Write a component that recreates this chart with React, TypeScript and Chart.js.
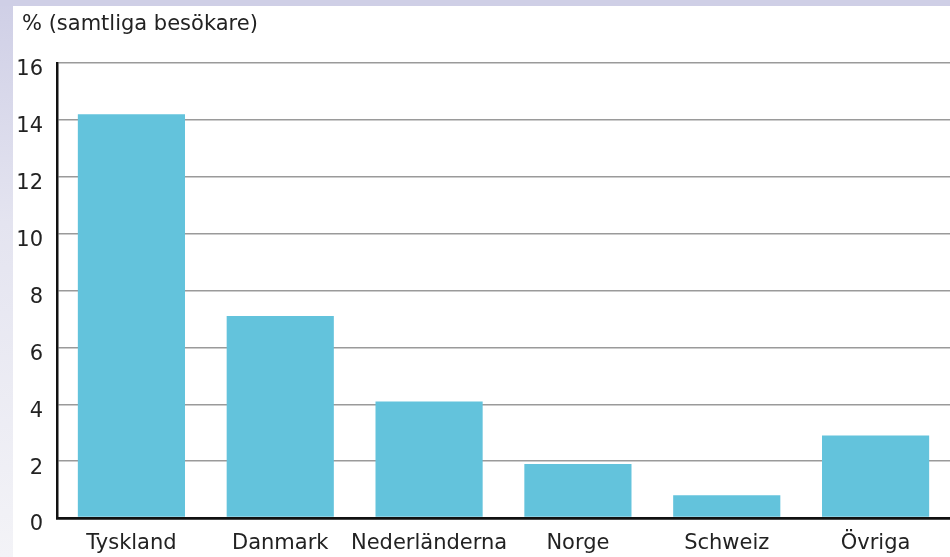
import { useEffect, useRef } from 'react';
import { Chart, registerables } from 'chart.js';

Chart.register(...registerables);

const categories = ['Tyskland', 'Danmark', 'Nederländerna', 'Norge', 'Schweiz', 'Övriga'];
const values = [14.2, 7.1, 4.1, 1.9, 0.8, 2.9];
const yMin = 0;
const yMax = 16;
const yStep = 2;
const titleText = '% (samtliga besökare)';

const FONT = '"DejaVu Sans", "Liberation Sans", Arial, sans-serif';

const titlePlugin = {
  id: 'cornerTitle',
  afterDraw(chart: any) {
    const ctx = chart.ctx;
    ctx.save();
    ctx.font = `21px ${FONT}`;
    ctx.fillStyle = '#222';
    ctx.textAlign = 'left';
    ctx.textBaseline = 'middle';
    ctx.fillText(titleText, 9, 19);
    ctx.restore();
  },
};

export default function App() {
  const ref = useRef<HTMLCanvasElement | null>(null);

  useEffect(() => {
    document.body.style.margin = '0';
    const canvas = ref.current;
    if (!canvas) return;
    const chart = new Chart(canvas, {
      type: 'bar',
      data: {
        labels: categories,
        datasets: [
          {
            data: values,
            backgroundColor: '#63c3dc',
            borderWidth: 0,
            barPercentage: 0.72,
            categoryPercentage: 1,
          },
        ],
      },
      plugins: [titlePlugin],
      options: {
        responsive: false,
        animation: false,
        devicePixelRatio: 1,
        layout: { padding: { left: 0, right: 0, top: 57, bottom: 0 } },
        plugins: {
          legend: { display: false },
          tooltip: { enabled: false },
          title: { display: false },
        },
        scales: {
          x: {
            afterFit: (scale: any) => {
              scale.height = 39;
            },
            grid: { display: false, drawTicks: false },
            border: { display: true, color: '#111', width: 2.5 },
            ticks: {
              color: '#222',
              font: { family: FONT, size: 21 },
              padding: 13,
              maxRotation: 0,
              autoSkip: false,
            },
          },
          y: {
            min: yMin,
            max: yMax,
            afterFit: (scale: any) => {
              scale.width = 44;
            },
            grid: {
              drawTicks: false,
              color: (ctx: any) => (ctx.tick && ctx.tick.value === 0 ? '#111' : '#9a9a9a'),
              lineWidth: (ctx: any) => (ctx.tick && ctx.tick.value === 0 ? 2.5 : 1.5),
            },
            border: { display: true, color: '#111', width: 2.5 },
            ticks: {
              stepSize: yStep,
              color: '#222',
              font: { family: FONT, size: 21 },
              padding: 14,
              labelOffset: 7,
            },
          },
        },
      },
    });
    return () => chart.destroy();
  }, []);

  return (
    <div
      style={{
        position: 'relative',
        width: 950,
        height: 557,
        background: 'linear-gradient(to bottom, #cfcfe6 0%, #e4e4f0 40%, #f3f3f7 100%)',
        overflow: 'hidden',
      }}
    >
      <div style={{ position: 'absolute', left: 0, top: 0, width: 950, height: 6, background: '#cfcfe6' }} />
      <canvas
        ref={ref}
        width={937}
        height={551}
        style={{ position: 'absolute', left: 13, top: 6, background: '#fff', display: 'block' }}
      />
    </div>
  );
}
